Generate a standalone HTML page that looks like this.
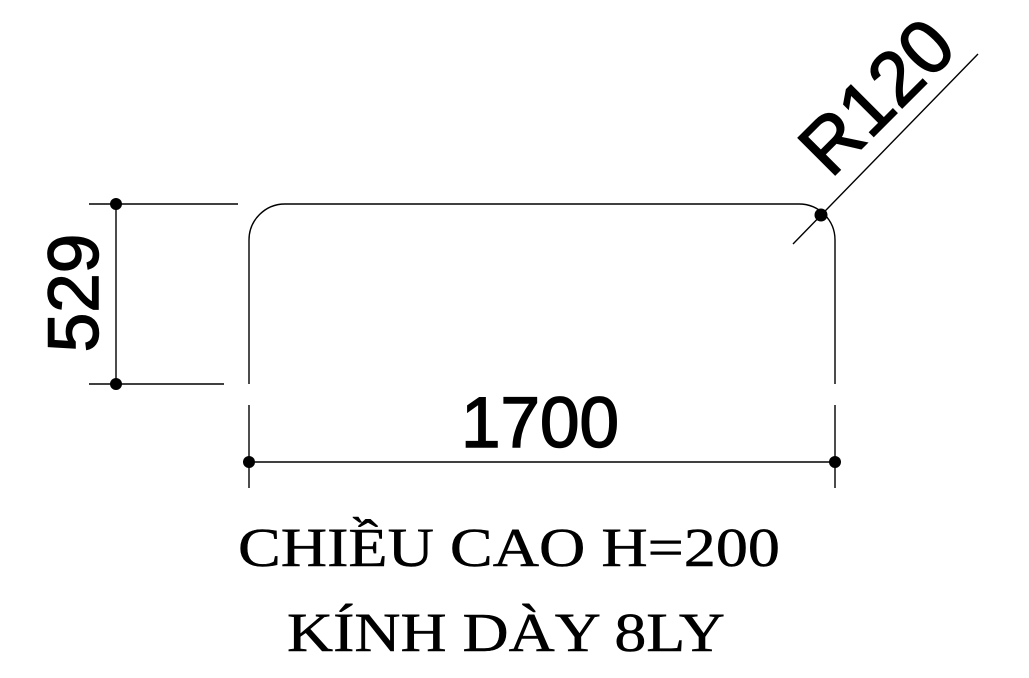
<!DOCTYPE html>
<html><head><style>html,body{margin:0;padding:0;background:#fff;}svg{display:block}</style></head>
<body>
<svg width="1029" height="678" viewBox="0 0 1029 678" xmlns="http://www.w3.org/2000/svg">
<g stroke="#000" stroke-width="1.4" fill="none">
<path d="M249 384 V240 A36 36 0 0 1 285 204 H799 A36 36 0 0 1 835 240 V384"/>
<line x1="89" y1="204" x2="238" y2="204"/>
<line x1="89" y1="384" x2="224" y2="384"/>
<line x1="116" y1="204" x2="116" y2="384"/>
<line x1="249" y1="405" x2="249" y2="488"/>
<line x1="835" y1="405" x2="835" y2="488"/>
<line x1="249" y1="462" x2="835" y2="462"/>
<line x1="793" y1="244" x2="978" y2="54"/>
</g>
<g fill="#000">
<circle cx="116" cy="204" r="6"/><circle cx="116" cy="384" r="6"/>
<circle cx="249" cy="462" r="6"/><circle cx="835" cy="462" r="6"/>
<circle cx="821" cy="215" r="6.5"/>
</g>
<g font-family="Liberation Sans, sans-serif" fill="#000" stroke="#000" stroke-width="1.5">
<text x="540" y="447" font-size="71" text-anchor="middle">1700</text>
<text transform="translate(98,293) rotate(-90)" font-size="71" text-anchor="middle">529</text>
<text transform="translate(895,115) rotate(-45)" font-size="76" text-anchor="middle">R120</text>
</g>
<g font-family="Liberation Serif, serif" fill="#000" stroke="#000" stroke-width="0.5" font-size="55">
<text x="238" y="566" textLength="542" lengthAdjust="spacingAndGlyphs">CHIỀU CAO H=200</text>
<text x="287" y="651" textLength="438" lengthAdjust="spacingAndGlyphs">KÍNH DÀY 8LY</text>
</g>
</svg>
</body></html>
